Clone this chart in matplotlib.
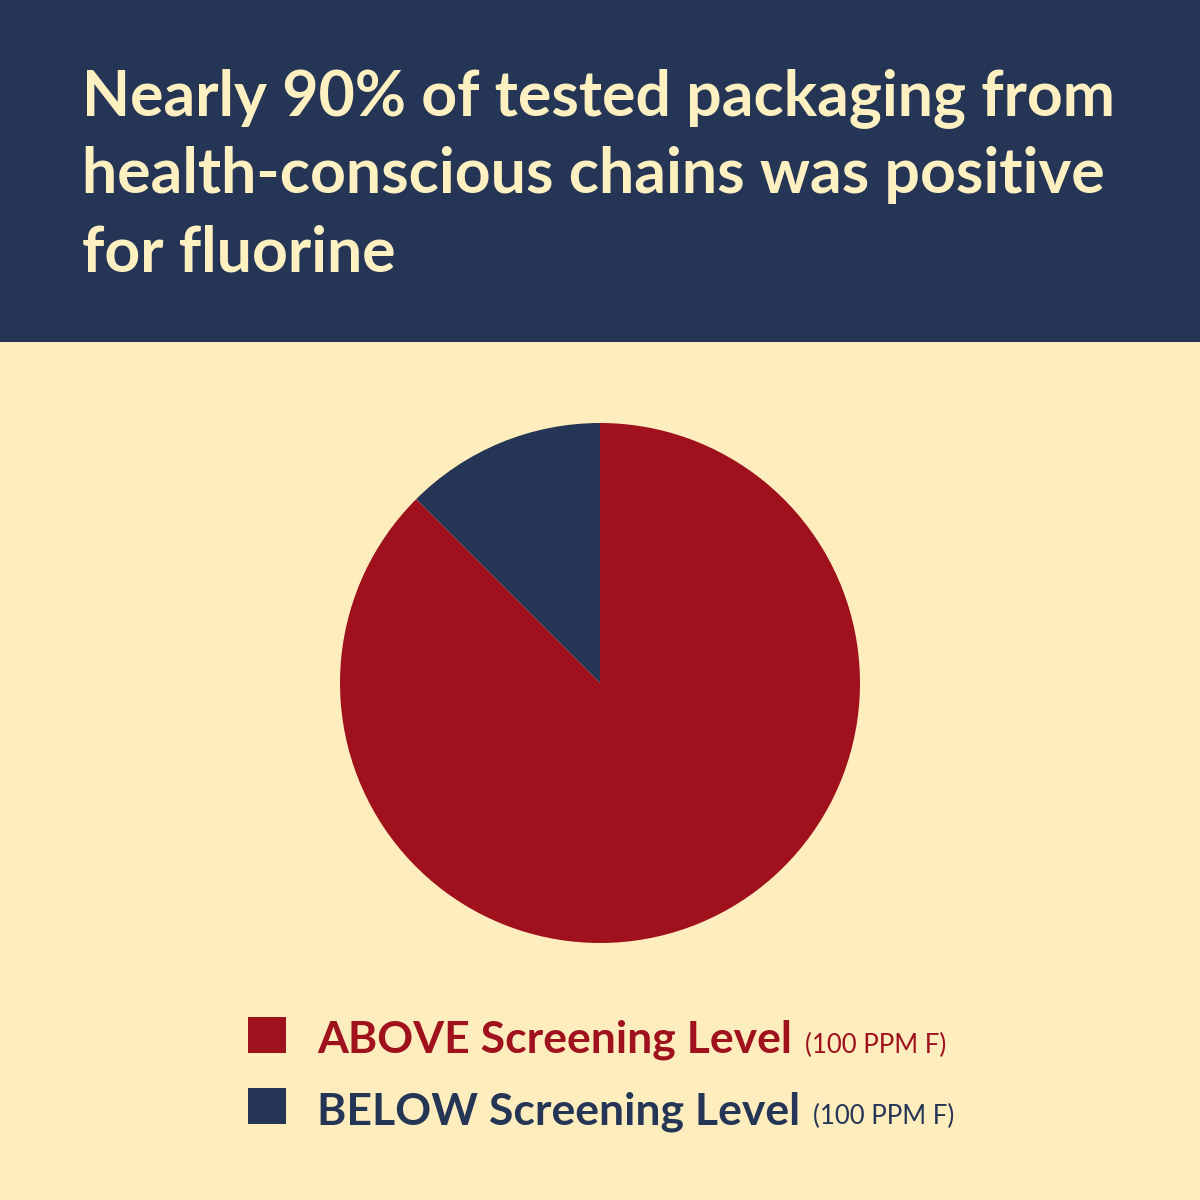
import matplotlib.pyplot as plt
from matplotlib.patches import Rectangle

# data
labels = ['ABOVE Screening Level', 'BELOW Screening Level']
shares = [87.5, 12.5]
note = '(100 PPM F)'
title_lines = ['Nearly 90% of tested packaging from',
               'health-conscious chains was positive',
               'for fluorine']

RED = '#A0111E'
NAVY = '#243556'
CREAM = '#FFEDBE'
TITLE_COL = '#FFF0C2'

plt.rcParams['font.family'] = ['Lato', 'DejaVu Sans']

W = H = 1200
fig = plt.figure(figsize=(12, 12), dpi=100)
fig.patch.set_facecolor(CREAM)

def fy(px):
    return 1 - px / H

# header band
fig.patches.append(Rectangle((0, fy(342)), 1, 342 / H, transform=fig.transFigure,
                             facecolor=NAVY, edgecolor='none', zorder=0))
for i, line in enumerate(title_lines):
    fig.text(82 / W, fy(115 + 78 * i), line, color=TITLE_COL, fontsize=45,
             fontweight='bold', va='baseline', ha='left')

# pie
ax = fig.add_axes([340 / W, fy(943), 520 / W, 520 / H])
ax.pie([shares[1], shares[0]], colors=[NAVY, RED], startangle=90, counterclock=True,
       radius=1, wedgeprops=dict(linewidth=0))
ax.set_xlim(-1, 1)
ax.set_ylim(-1, 1)
ax.set_aspect('equal')
ax.axis('off')

# legend drawn by hand
fig.canvas.draw()
renderer = fig.canvas.get_renderer()
rows = [(labels[0], RED, 1017), (labels[1], NAVY, 1088)]
for lab, col, top in rows:
    fig.patches.append(Rectangle((248 / W, fy(top + 36)), 38 / W, 36 / H,
                                 transform=fig.transFigure, facecolor=col, edgecolor='none'))
    t = fig.text(317 / W, fy(top + 36), lab, color=col, fontsize=32, fontweight='bold',
                 va='baseline', ha='left')
    bb = t.get_window_extent(renderer)
    fig.text((bb.x1 + 13) / W, fy(top + 36), note, color=col, fontsize=18.5,
             va='baseline', ha='left')

fig.savefig('out.png', dpi=100, facecolor=CREAM)
